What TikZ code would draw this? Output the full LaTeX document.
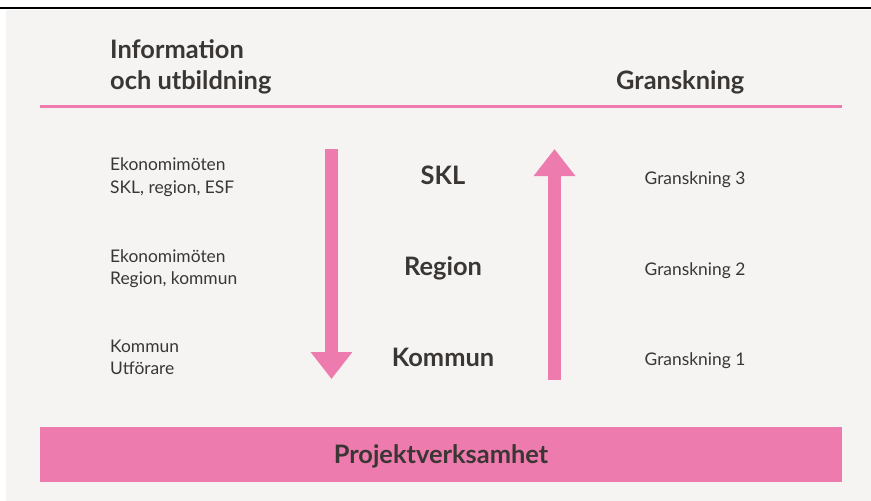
\documentclass[tikz,border=0pt]{standalone}
\usepackage{fontspec}
\setmainfont{Lato}
\usetikzlibrary{arrows.meta}
\definecolor{rosa}{HTML}{EE7BAE}
\definecolor{paper}{HTML}{F5F4F2}
\definecolor{ink}{HTML}{3A3634}
\tikzset{
  head/.style={anchor=base west,inner sep=0pt,text=ink,font=\fontsize{25.4}{30}\selectfont\bfseries},
  level/.style={anchor=base,inner sep=0pt,text=ink,font=\fontsize{25.4}{30}\selectfont\bfseries},
  note/.style={anchor=base west,inner sep=0pt,text=ink,font=\fontsize{17.4}{21}\selectfont},
  check/.style={anchor=base,inner sep=0pt,text=ink,font=\fontsize{17.4}{21}\selectfont},
  flow/.style={draw=rosa,line width=13pt,-{Triangle[width=40pt,length=27pt]}},
  band/.style={fill=rosa,minimum width=802pt,minimum height=55pt,inner sep=0pt,
    text height=18pt,text depth=0pt,text=ink,font=\fontsize{25.4}{30}\selectfont\bfseries},
}

\begin{document}
\begin{tikzpicture}[x=1pt,y=-1pt]
  \useasboundingbox (0,0) rectangle (871,501);
  \fill[paper] (6,10) rectangle (871,501);
  \draw[line width=2pt] (0,7.5) -- (871,7.5);

  % column heads
  \node[head] (info1) at (110,58) {Information};
  \node[head] (info2) at (110,89) {och utbildning};
  \node[head] (gransk) at (616,89) {Granskning};
  \draw[rosa,line width=2.2pt] (40,106.5) -- (842,106.5);

  % left column
  \node[note] (eko1a) at (110,170) {Ekonomimöten};
  \node[note] (eko1b) at (110,193) {SKL, region, ESF};
  \node[note] (eko2a) at (110,262) {Ekonomimöten};
  \node[note] (eko2b) at (110,284) {Region, kommun};
  \node[note] (komma) at (110,352) {Kommun};
  \node[note] (kommb) at (110,374) {Utförare};

  % levels
  \node[level] (skl) at (443,184) {SKL};
  \node[level] (region) at (443,275) {Region};
  \node[level] (kommun) at (443,366) {Kommun};

  % right column
  \node[check] (g3) at (695,184) {Granskning 3};
  \node[check] (g2) at (695,275) {Granskning 2};
  \node[check] (g1) at (695,365) {Granskning 1};

  % arrows
  \coordinate (downtop) at (331.5,149);
  \coordinate (downend) at (331.5,379);
  \coordinate (upbot) at (554.5,380);
  \coordinate (upend) at (554.5,149);
  \draw[flow] (downtop) -- (downend);
  \draw[flow] (upbot) -- (upend);

  \node[band] (proj) at (441,454.5) {Projektverksamhet};
\end{tikzpicture}
\end{document}
